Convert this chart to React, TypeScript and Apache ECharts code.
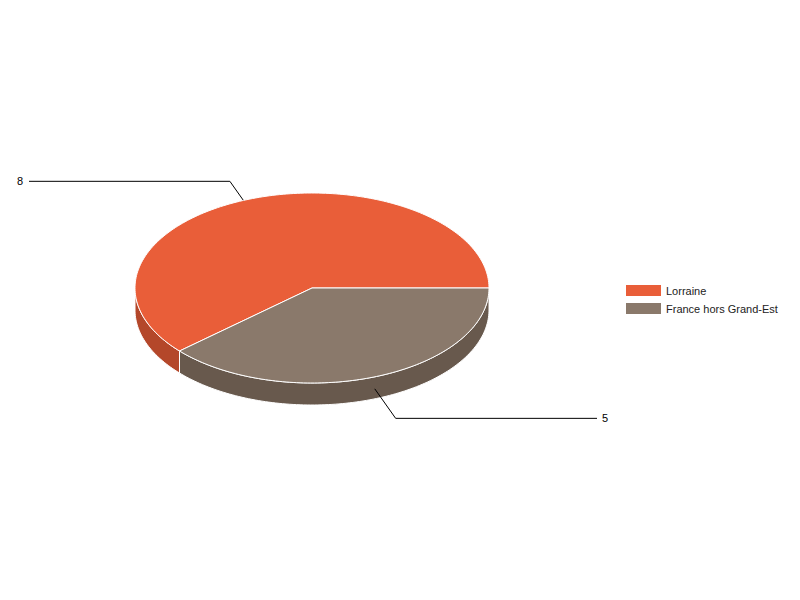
import React, { useEffect, useRef } from 'react';
import * as echarts from 'echarts';

const categories = ['Lorraine', 'France hors Grand-Est'];
const values = [8, 5];
const topColors = ['#E95E39', '#8A796B'];
const sideColors = ['#B4472A', '#68594D'];

// ellipse geometry of the 3d pie
const CX = 312;
const CY = 288;
const RX = 177;
const RY = 95;
const DEPTH = 22;

const pt = (a: number, dy: number) => [CX + RX * Math.cos(a), CY - RY * Math.sin(a) + dy];

const arc = (a0: number, a1: number, dy: number) => {
  const n = Math.max(2, Math.ceil(Math.abs(a1 - a0) / 0.02));
  const pts: number[][] = [];
  for (let i = 0; i <= n; i++) pts.push(pt(a0 + ((a1 - a0) * i) / n, dy));
  return pts;
};

export default function App() {
  const chartRef = useRef<HTMLDivElement>(null);

  useEffect(() => {
    if (!chartRef.current) return;
    const chart = echarts.init(chartRef.current, null, { renderer: 'svg' });
    const total = values.reduce((s, v) => s + v, 0);
    const starts: number[] = [];
    let acc = 0;
    values.forEach((v) => {
      starts.push(acc);
      acc += v;
    });

    const renderItem = (params: any, api: any) => {
      const i = params.seriesIndex;
      const v = api.value(0);
      const a0 = (starts[i] / total) * Math.PI * 2;
      const a1 = a0 + (v / total) * Math.PI * 2;
      const children: any[] = [];

      // visible side face (front half)
      const s0 = Math.max(a0, Math.PI);
      const s1 = Math.min(a1, Math.PI * 2);
      if (s1 > s0) {
        children.push({
          type: 'polygon',
          shape: { points: arc(s0, s1, 0).concat(arc(s1, s0, DEPTH)) },
          style: { fill: sideColors[i], stroke: '#fff', lineWidth: 1 },
        });
      }
      // top face
      children.push({
        type: 'polygon',
        shape: { points: [[CX, CY]].concat(arc(a0, a1, 0)) },
        style: { fill: topColors[i], stroke: '#fff', lineWidth: 1 },
      });

      // label with leader line
      const mid = (a0 + a1) / 2;
      const front = Math.sin(mid) < 0;
      const right = Math.cos(mid) > 0;
      const anchor = pt(mid, front ? DEPTH / 2 + 1 : 1);
      anchor[0] += right ? 0 : -6;
      const len = front ? 36 : 23;
      const elbow = [anchor[0] + (right ? 0.58 : -0.58) * len, anchor[1] + (front ? 0.82 : -0.82) * len];
      const endX = right ? 597 : 29;
      children.push({
        type: 'polyline',
        shape: { points: [anchor, elbow, [endX, elbow[1]]] },
        style: { stroke: '#000', lineWidth: 1, fill: null },
      });
      children.push({
        type: 'text',
        style: {
          text: String(v),
          x: right ? endX + 5 : endX - 6,
          y: elbow[1],
          fill: '#000',
          font: '11px "Liberation Sans", Arial, sans-serif',
          align: right ? 'left' : 'right',
          verticalAlign: 'middle',
        },
      });
      return { type: 'group', children };
    };

    chart.setOption({
      animation: false,
      legend: {
        orient: 'vertical',
        left: 621,
        top: 280,
        itemWidth: 35,
        itemHeight: 11,
        itemGap: 7,
        icon: 'rect',
        data: categories,
        textStyle: { fontSize: 11, color: '#222', fontFamily: '"Liberation Sans", Arial, sans-serif' },
      },
      series: categories.map((name, i) => ({
        type: 'custom',
        name,
        coordinateSystem: 'none',
        renderItem,
        itemStyle: { color: topColors[i] },
        data: [[values[i]]],
      })),
    });

    return () => chart.dispose();
  }, []);

  return (
    <div
      ref={chartRef}
      style={{ position: 'fixed', left: 0, top: 0, width: '800px', height: '600px', background: '#fff' }}
    />
  );
}
